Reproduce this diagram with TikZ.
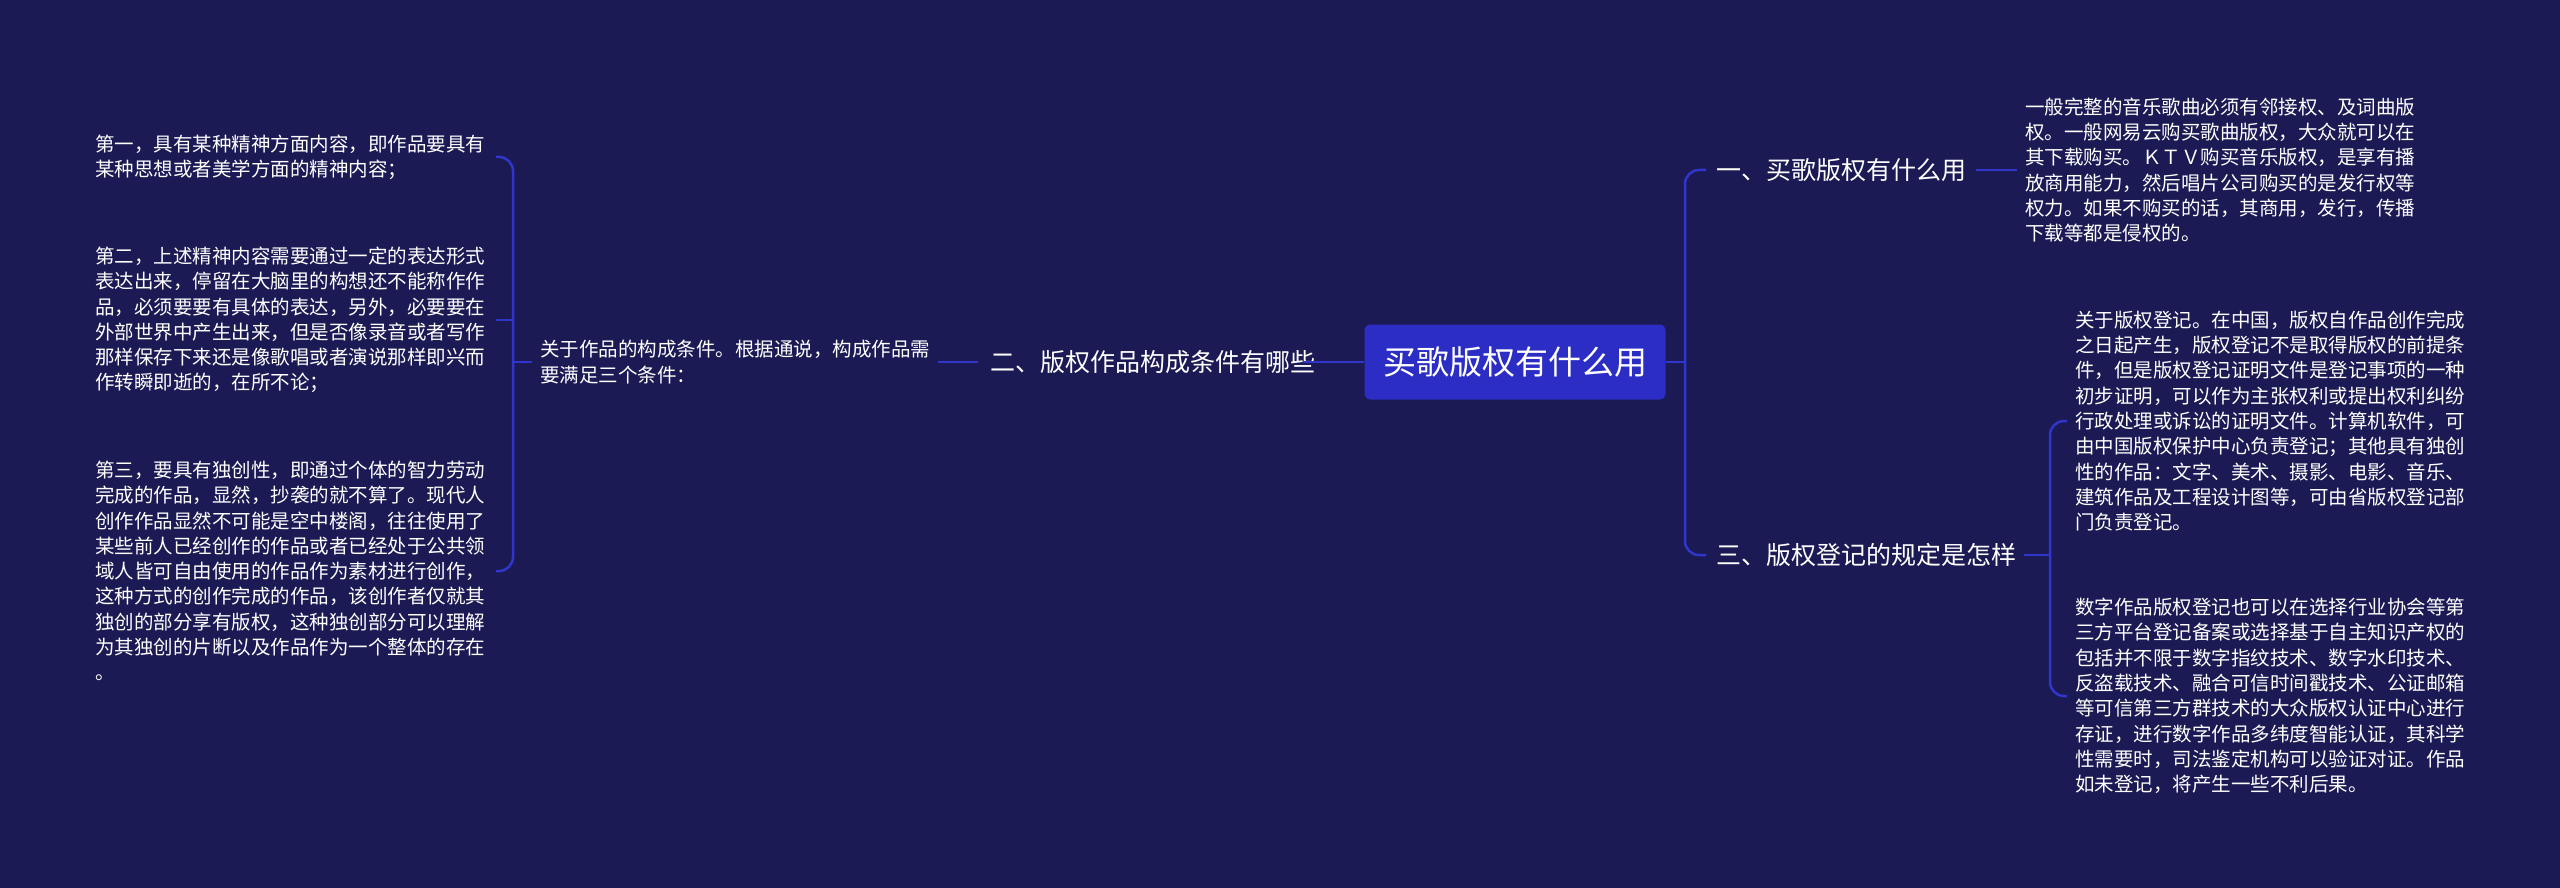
\documentclass[tikz,border=0pt]{standalone}
\usepackage{fontspec}
\setmainfont{Noto Sans CJK SC}
\definecolor{bg}{RGB}{27,26,84}
\definecolor{rootc}{RGB}{43,45,196}
\definecolor{linec}{RGB}{48,54,204}
\tikzset{
 leaf/.style={inner sep=0pt,anchor=west,align=left,text=white,font=\fontsize{19.5}{25.3}\selectfont},
 branch/.style={inner sep=0pt,anchor=west,text=white,font=\fontsize{25}{30}\selectfont},
 conn/.style={draw=linec,line width=2.5pt,rounded corners=14pt},
}
\begin{document}
\begin{tikzpicture}[x=1pt,y=-1pt]
\fill[bg] (0,0) rectangle (2560,888);
\useasboundingbox (0,0) rectangle (2560,888);
\node[fill=rootc,rounded corners=6pt,minimum width=301pt,minimum height=75pt,text=white,font=\fontsize{33}{38}\selectfont] (root) at (1515,362) {买歌版权有什么用};
% right side
\node[branch] (b1) at (1716,170) {一、买歌版权有什么用};
\node[branch] (b3) at (1716,555) {三、版权登记的规定是怎样};
\node[leaf] (l1) at (2025,170) {一般完整的音乐歌曲必须有邻接权、及词曲版\\权。一般网易云购买歌曲版权，大众就可以在\\其下载购买。ＫＴＶ购买音乐版权，是享有播\\放商用能力，然后唱片公司购买的是发行权等\\权力。如果不购买的话，其商用，发行，传播\\下载等都是侵权的。};
\node[leaf] (l3a) at (2075,421) {关于版权登记。在中国，版权自作品创作完成\\之日起产生，版权登记不是取得版权的前提条\\件，但是版权登记证明文件是登记事项的一种\\初步证明，可以作为主张权利或提出权利纠纷\\行政处理或诉讼的证明文件。计算机软件，可\\由中国版权保护中心负责登记；其他具有独创\\性的作品：文字、美术、摄影、电影、音乐、\\建筑作品及工程设计图等，可由省版权登记部\\门负责登记。};
\node[leaf] (l3b) at (2075,696) {数字作品版权登记也可以在选择行业协会等第\\三方平台登记备案或选择基于自主知识产权的\\包括并不限于数字指纹技术、数字水印技术、\\反盗载技术、融合可信时间戳技术、公证邮箱\\等可信第三方群技术的大众版权认证中心进行\\存证，进行数字作品多纬度智能认证，其科学\\性需要时，司法鉴定机构可以验证对证。作品\\如未登记，将产生一些不利后果。};
% left side
\node[branch] (b2) at (990,362) {二、版权作品构成条件有哪些};
\node[leaf] (m2) at (540,362) {关于作品的构成条件。根据通说，构成作品需\\要满足三个条件：};
\node[leaf] (p1) at (95,157) {第一，具有某种精神方面内容，即作品要具有\\某种思想或者美学方面的精神内容；};
\node[leaf] (p2) at (95,320) {第二，上述精神内容需要通过一定的表达形式\\表达出来，停留在大脑里的构想还不能称作作\\品，必须要要有具体的表达，另外，必要要在\\外部世界中产生出来，但是否像录音或者写作\\那样保存下来还是像歌唱或者演说那样即兴而\\作转瞬即逝的，在所不论；};
\node[leaf] (p3) at (95,571) {第三，要具有独创性，即通过个体的智力劳动\\完成的作品，显然，抄袭的就不算了。现代人\\创作作品显然不可能是空中楼阁，往往使用了\\某些前人已经创作的作品或者已经处于公共领\\域人皆可自由使用的作品作为素材进行创作，\\这种方式的创作完成的作品，该创作者仅就其\\独创的部分享有版权，这种独创部分可以理解\\为其独创的片断以及作品作为一个整体的存在\\。};
% connector coordinates
\coordinate (e1) at (496,157);
\coordinate (e2) at (496,320);
\coordinate (e3) at (496,571);
% connectors
\draw[conn] (root.east) -- (1685,362);
\draw[conn] (b1.west) ++(-10,0) -- (1685,170) -- (1685,555) -- ([xshift=-10pt]b3.west);
\draw[conn] ([xshift=10pt]b1.east) -- ([xshift=-8pt]l1.west);
\draw[conn] ([xshift=8pt]b3.east) -- (2050,555);
\draw[conn] ([xshift=-8pt]l3a.west) -- (2050,421) -- (2050,696) -- ([xshift=-8pt]l3b.west);
\draw[conn] (root.west) -- ([xshift=-12pt]b2.east);
\draw[conn] ([xshift=-12pt]b2.west) -- ([xshift=8pt]m2.east);
\draw[conn] ([xshift=-8pt]m2.west) -- (513,362);
\draw[conn] (e1) -- (513,157) -- (513,571) -- (e3);
\draw[conn] (e2) -- (513,320);
\end{tikzpicture}
\end{document}
